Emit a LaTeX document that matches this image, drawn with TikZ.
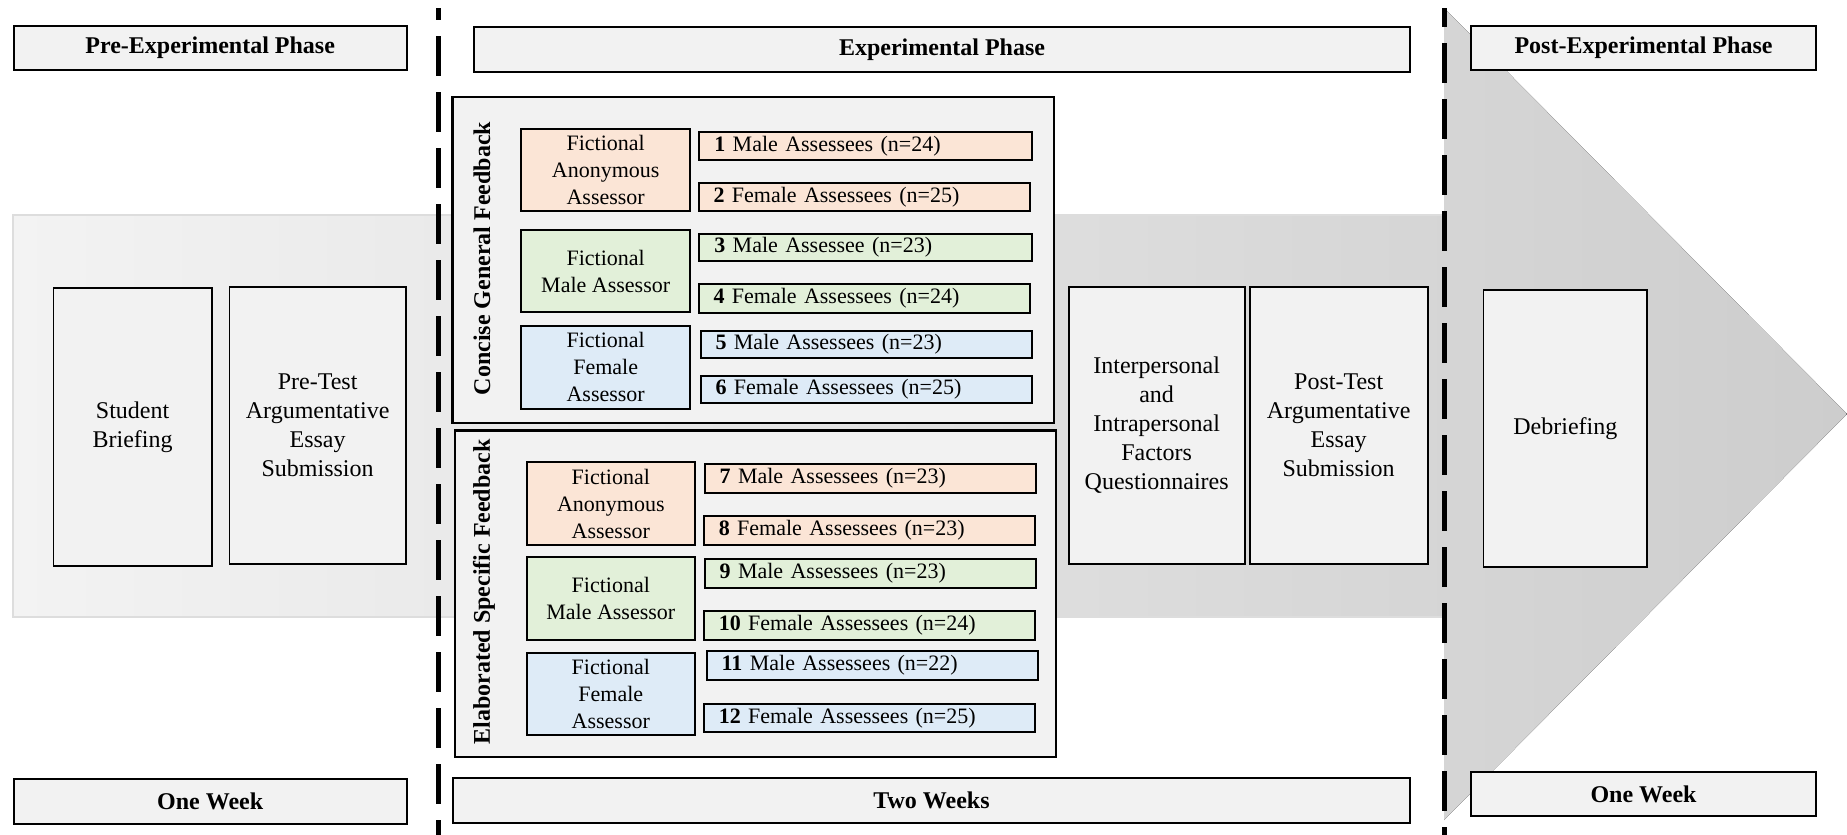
\documentclass[tikz,border=0pt]{standalone}
\usepackage{fontspec}
\setmainfont{Liberation Serif}
\definecolor{peach}{HTML}{FBE5D6}
\definecolor{mint}{HTML}{E2F0D9}
\definecolor{sky}{HTML}{DEEBF7}
\definecolor{boxgray}{HTML}{F2F2F2}
\definecolor{bandL}{HTML}{F3F3F3}
\definecolor{bandR}{HTML}{CDCDCD}
\definecolor{bandedge}{HTML}{DDDDDD}
\newcommand\rb[7]{\node[#2,anchor=north west,minimum width={(#5-#3)*0.5pt},minimum height={(#6-#4)*0.5pt}] (#1) at (#3,#4) {#7};}
\newcommand\gb[7]{\node[grp,fill=#2,anchor=north west,text width={(#5-#3)*0.5pt-15pt},minimum height={(#6-#4)*0.5pt}] (#1) at (#3,#4) {#7};}
\tikzset{
  hdr/.style={draw,line width=1pt,fill=boxgray,inner sep=0pt,font=\fontsize{12}{14}\selectfont\bfseries},
  stagebox/.style={draw,line width=0.9pt,fill=boxgray,inner sep=0pt,align=center,font=\fontsize{12}{14.5}\selectfont},
  panel/.style={draw,line width=1.2pt,fill=boxgray,inner sep=0pt},
  assessor/.style={draw,line width=1pt,inner sep=0pt,align=center,font=\fontsize{11}{13.5}\selectfont},
  grp/.style={draw,line width=1pt,inner xsep=7.5pt,inner ysep=0pt,align=left,font=\fontsize{11}{13}\selectfont},
  vlabel/.style={rotate=90,inner sep=0pt,font=\fontsize{12}{14}\selectfont\bfseries},
  divider/.style={line width=2.3pt,dash pattern=on 20pt off 8pt},
}
\begin{document}
\begin{tikzpicture}[x=0.5pt,y=-0.5pt]
\useasboundingbox (0,0) rectangle (1847,835);
% big arrow background
\fill[left color=bandL,right color=bandR] (13,215) -- (1444,215) -- (1444,8) -- (1847,414) -- (1444,820) -- (1444,617) -- (13,617) -- cycle;
\draw[bandedge,line width=0.6pt] (1444,215) -- (13,215) -- (13,617) -- (1444,617);
% dividers
\coordinate (d1t) at (438.5,8); \coordinate (d1b) at (438.5,835);
\coordinate (d2t) at (1444.5,8); \coordinate (d2b) at (1444.5,835);
\draw[divider,dash phase=14pt] (d1t) -- (d1b);
\draw[divider,dash phase=10.5pt] (d2t) -- (d2b);
% headers
\rb{preh}{hdr}{12.7}{24.7}{405.7}{69}{Pre-Experimental Phase}
\rb{exph}{hdr}{473}{26}{1409}{70.7}{Experimental Phase}
\rb{posth}{hdr}{1470}{24.7}{1815}{69}{Post-Experimental Phase}
\rb{wk1}{hdr}{12.7}{777.7}{405.7}{822.7}{One Week}
\rb{wk2}{hdr}{452}{776.7}{1409}{822}{Two Weeks}
\rb{wk3}{hdr}{1470}{770.7}{1815}{815}{One Week}
% stages
\rb{brief}{stagebox}{52.6}{287}{210.8}{565}{Student\\Briefing}
\rb{pre}{stagebox}{228.5}{286}{405}{563}{Pre-Test\\Argumentative\\Essay\\Submission}
\rb{inter}{stagebox}{1067.8}{286}{1243.7}{562.7}{Interpersonal\\and\\Intrapersonal\\Factors\\Questionnaires}
\rb{post}{stagebox}{1248.8}{286}{1426.7}{562.7}{Post-Test\\Argumentative\\Essay\\Submission}
\rb{debrief}{stagebox}{1482.6}{289.3}{1646.3}{565.7}{Debriefing}
% panels
\rb{concise}{panel}{451.4}{95.7}{1053}{421.7}{}
\rb{elab}{panel}{453.5}{429.3}{1055}{755.7}{}
\node[vlabel] (cgf) at (482,258.5) {Concise General Feedback};
\node[vlabel] (esf) at (484,592) {Elaborated Specific Feedback};
% concise assessors
\rb{ca}{assessor,fill=peach}{520.4}{128.3}{689}{210.3}{Fictional\\Anonymous\\Assessor}
\rb{cm}{assessor,fill=mint}{520.4}{229.3}{689}{311.3}{Fictional\\Male Assessor}
\rb{cf}{assessor,fill=sky}{520.4}{325}{689}{407.7}{Fictional\\Female\\Assessor}
\gb{g1}{peach}{698.4}{131}{1030.6}{159}{\textbf{1} Male Assessees (n=24)}
\gb{g2}{peach}{697.6}{181.7}{1029}{210.3}{\textbf{2} Female Assessees (n=25)}
\gb{g3}{mint}{698.4}{232.7}{1030.6}{260}{\textbf{3} Male Assessee (n=23)}
\gb{g4}{mint}{697.6}{283}{1029}{311.7}{\textbf{4} Female Assessees (n=24)}
\gb{g5}{sky}{699.6}{330}{1030.6}{357.3}{\textbf{5} Male Assessees (n=23)}
\gb{g6}{sky}{699.6}{375}{1030.6}{402.3}{\textbf{6} Female Assessees (n=25)}
% elaborated assessors
\rb{ea}{assessor,fill=peach}{525.7}{461.3}{693.9}{543.7}{Fictional\\Anonymous\\Assessor}
\rb{em}{assessor,fill=mint}{525.7}{556.3}{693.9}{638.7}{Fictional\\Male Assessor}
\rb{ef}{assessor,fill=sky}{525.7}{651.7}{693.9}{733.7}{Fictional\\Female\\Assessor}
\gb{g7}{peach}{703.7}{463.3}{1034.7}{491.7}{\textbf{7} Male Assessees (n=23)}
\gb{g8}{peach}{702.9}{515.3}{1033.9}{543.7}{\textbf{8} Female Assessees (n=23)}
\gb{g9}{mint}{703.7}{558.3}{1034.7}{586.7}{\textbf{9} Male Assessees (n=23)}
\gb{g10}{mint}{702.9}{610}{1033.9}{638.7}{\textbf{10} Female Assessees (n=24)}
\gb{g11}{sky}{705.7}{650.3}{1036.7}{679}{\textbf{11} Male Assessees (n=22)}
\gb{g12}{sky}{702.9}{702.7}{1033.9}{731}{\textbf{12} Female Assessees (n=25)}
\end{tikzpicture}
\end{document}
